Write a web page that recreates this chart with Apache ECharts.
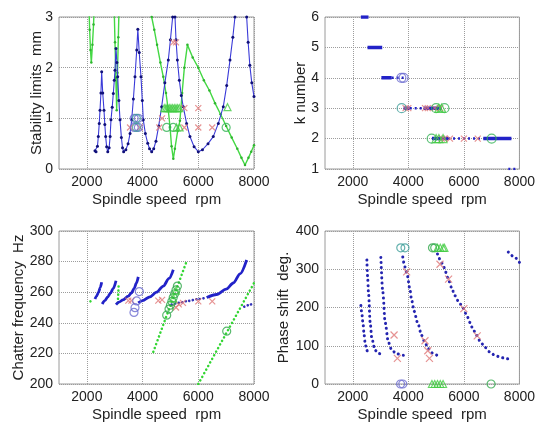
<!DOCTYPE html>
<html><head><meta charset="utf-8">
<script src="https://cdn.jsdelivr.net/npm/echarts@6/dist/echarts.min.js"></script>
<style>html,body{margin:0;padding:0;background:#fff}#c{width:538px;height:424px}</style>
</head><body><div id="c"></div>
<script>
const xTicks = [2000, 4000, 6000, 8000];

// ---- Panel 1: stability limits (mm)
const stabBlue = [
 [2292,0.36],[2330,0.34],[2380,0.45],[2412,0.64],[2445,0.9],[2472,1.16],[2505,1.5],[2532,1.92],[2570,1.5],[2615,1.16],[2645,0.88],[2675,0.64],[2710,0.44],[2750,0.34],
 [2800,0.42],[2835,0.64],[2866,0.97],[2910,1.22],[2950,1.49],[2985,1.75],[3010,1.95],[3046,2.38],[3080,2.1],[3107,1.82],[3150,1.35],[3190,0.97],[3240,0.62],[3280,0.42],[3320,0.34],
 [3400,0.38],[3480,0.5],[3550,0.7],[3609,0.97],[3670,1.38],[3728,1.82],[3790,2.35],[3830,2.76],[3880,2.3],[3943,1.82],[3990,1.35],[4026,0.97],[4100,0.7],[4184,0.51],[4250,0.4],[4327,0.34],
 [4400,0.4],[4480,0.55],[4580,0.85],[4686,1.23],[4800,1.7],[4924,2.15],[5000,2.55],[5080,3.0],[5095,3.2],
 [5150,3.2],[5164,3.0],[5200,2.55],[5250,2.15],[5320,1.75],[5390,1.45],[5460,1.23],[5580,0.9],[5700,0.64],[5850,0.44],[6000,0.34],
 [6150,0.38],[6350,0.5],[6538,0.64],[6720,0.9],[6898,1.23],[7020,1.65],[7138,2.15],[7240,2.6],[7317,3.0],[7335,3.2],
 [7720,3.2],[7737,3.0],[7790,2.5],[7850,2.05],[7920,1.7],[8000,1.43]
];
const stabGreen = [
 [[2070,3.3],[2100,2.75],[2130,2.35],[2160,2.1],[2200,2.45],[2240,2.85],[2270,3.3]],
 [[2975,3.3],[3010,2.5],[3040,1.8],[3071,1.16],[3100,1.9],[3130,2.6],[3160,3.3]],
 [[4300,3.3],[4327,3.0],[4420,2.75],[4520,2.45],[4640,2.1],[4744,1.82],[4840,1.5],[4924,1.16],[4985,0.83],[5040,0.45],[5103,0.2],[5160,0.4],[5260,0.75],[5340,0.95],[5420,1.5],[5500,2.0],[5610,2.45],[5800,2.2],[6000,2.0],[6200,1.75],[6400,1.55],[6600,1.3],[6800,1.08],[7000,0.85],[7200,0.62],[7400,0.4],[7550,0.22],[7677,0.08],[7800,0.22],[7900,0.34],[8000,0.47]]
];
const stabRedX = [[3550,0.82],[3900,0.82],[4600,0.82],[5500,0.82],[6000,0.82],[6500,0.82],[4700,1.0],[5500,1.2],[6000,1.2],[5100,2.5],[5200,2.5]];
const stabBlueO = [[3700,0.82],[3850,0.82],[3700,1.0],[3850,1.0]];
const stabTealO = [[3780,1.0],[3780,0.82]];
const stabGreenO = [[4866,0.82],[5100,0.82],[7000,0.82]];
const stabGreenTri = [[4780,1.2],[4840,1.2],[4900,1.2],[4960,1.2],[5020,1.2],[5080,1.2],[5140,1.2],[5200,1.2],[5260,1.2],[5320,1.2],[5220,0.82],[5330,0.82],[7050,1.22]];

// ---- Panel 2: k number  [start rpm, end rpm, k]
const kDense = [[2292,2565,6],[2530,3060,5],[3030,3400,4],[3830,4050,3],[4550,5200,3],[4850,5430,2],[6700,7712,2]];
const kSparse = [[3400,3830,4],[4050,4550,3],[5430,6700,2],[7600,7950,1]];
const kRedX = [[3900,3],[4000,3],[4600,3],[4700,3],[4950,3],[5150,3],[5200,2],[5300,2],[5500,2],[6000,2],[6500,2]];
const kBlueO = [[3750,4],[3830,4]];
const kTealO = [[3760,3]];
const kGreenO = [[4840,2],[7000,2],[5000,3],[5300,3]];
const kGreenTri = [[5100,3],[5200,3],[5000,2],[5100,2],[5250,2]];

// ---- Panel 3: chatter frequency (Hz)
const freqBlue = [
 [[2292,255.6],[2350,257.5],[2420,260],[2480,263],[2532,266.5]],
 [[2550,252.3],[2650,254.5],[2750,257],[2850,259.5],[2950,262.5],[3046,267.5]],
 [[3046,251.9],[3150,253.5],[3300,255],[3488,257.4],[3600,259.5],[3700,262.5],[3780,266],[3846,270]],
 [[3846,253],[4000,254.5],[4266,257],[4500,260],[4744,264],[4950,269],[5103,274.7]],
 [[6300,256.5],[6660,258.5],[7000,262],[7257,266],[7500,272],[7737,281]]
];
const freqBlueDotted = [
 [[5045,251.9],[5300,253],[5600,254.2],[6000,255.5],[6300,256.5]],
 [[7650,250.5],[7800,251.5],[8000,253]]
];
const freqGreen = [
 [[2130,254],[2175,256]],
 [[3110,253],[3140,264]],
 [[4385,221],[5583,280.3]],
 [[6000,200],[8000,266]]
];
const freqRedX = [[3488,254.5],[3600,254.5],[4564,254.5],[4700,255],[5200,250],[5300,252],[5450,253],[6000,254],[6500,254]];
const freqBlueO = [[3692,246.8],[3728,249.9],[3789,254.3],[3883,260.4]];
const freqGreenO = [[4866,245],[4950,249],[5000,251.5],[5050,254],[5100,256.5],[5150,259],[5200,261.5],[5250,264],[7020,234.5]];
const freqGreenTri = [[5100,256],[5200,261]];

// ---- Panel 4: phase shift (deg.)
const phaseBlue = [
 [[2292,205],[2328,183],[2364,161],[2411,127],[2447,105],[2508,88],[2543,81]],
 [[2508,324],[2531,283],[2565,240],[2626,161],[2687,118],[2806,88],[2920,80],[3046,77]],
 [[3010,331],[3082,240],[3164,161],[3283,109],[3405,88],[3584,79],[3822,75]],
 [[3800,332],[3880,306],[3966,283],[4050,250],[4123,218],[4210,190],[4330,161],[4482,127],[4600,108],[4720,92],[4900,79],[5138,70]],
 [[5050,340],[5150,325],[5258,309],[5350,292],[5437,274],[5550,253],[5677,231],[5820,214],[5976,198],[6100,180],[6216,161],[6330,143],[6456,127],[6600,110],[6754,96],[6930,84],[7113,75],[7350,69],[7550,66],[7750,64]],
 [[7600,345],[7800,333],[8000,318]]
];
const phaseRedX = [[3487,128],[3606,67],[3940,293],[4600,113],[4700,87],[4760,67],[5140,313],[5450,274],[6000,197],[6480,126]];
const phaseBlueO = [[3720,0],[3800,0]];
const phaseTealO = [[3728,356],[3880,356]];
const phaseGreenO = [[4870,356],[4950,356],[6980,0]];
const phaseGreenTri = [[5050,356],[5150,356],[5250,356],[5300,356],[4850,0],[4950,0],[5050,0],[5150,0],[5250,0]];

// ---------------------------------------------------------------
const FONT = "'Liberation Sans',Arial,sans-serif";
const TXT = '#222';
const GRIDC = '#9c9c9c';
const grids = [
  {left:59, top:17, width:195, height:152},
  {left:325, top:17, width:195, height:152},
  {left:59, top:231, width:195, height:153},
  {left:325, top:231, width:195, height:153}
].map(g => Object.assign({show:true, borderColor:'#9a9a9a', borderWidth:1, backgroundColor:'rgba(0,0,0,0)', z:0}, g));

function xAx(gi) {
  return {type:'value', gridIndex:gi, min:1000, max:8000, interval:1000, z:1,
    name:'Spindle speed  rpm', nameLocation:'middle', nameGap:23, nameMoveOverlap:false,
    nameTextStyle:{fontSize:15, color:TXT, fontFamily:FONT},
    axisLine:{show:false}, axisTick:{show:false},
    axisLabel:{fontSize:14, color:TXT, fontFamily:FONT, margin:6,
      formatter: v => xTicks.includes(v) ? String(v) : ''},
    splitLine:{show:true, lineStyle:{color:['rgba(255,255,255,0)', GRIDC], type:'dotted', width:1}}};
}
function yAx(gi, name, min, max, interval, gap) {
  return {type:'value', gridIndex:gi, min, max, interval, name, nameLocation:'middle', nameGap:gap, nameMoveOverlap:false, z:1,
    nameTextStyle:{fontSize:15, color:TXT, fontFamily:FONT},
    axisLine:{show:false}, axisTick:{show:false},
    axisLabel:{fontSize:14, color:TXT, fontFamily:FONT, margin:6},
    splitLine:{show:true, lineStyle:{color:GRIDC, type:'dotted', width:1}}};
}

const series = [];
function line(gi, data, o) {
  series.push(Object.assign({type:'line', xAxisIndex:gi, yAxisIndex:gi, data, animation:false, silent:true,
    showSymbol:false, clip:true}, o));
}
function dots(gi, data, color, width, gap, z) {
  line(gi, data, {lineStyle:{color, width, type:[0.1, gap], cap:'round'}, smooth:0.3, smoothMonotone:'x', z:z||2});
}
function marks(gi, data, kind, color, size) {
  const sym = kind === 'x' ? 'path://M0 0L10 10M10 0L0 10' : kind;
  series.push({type:'scatter', xAxisIndex:gi, yAxisIndex:gi, data, animation:false, silent:true,
    symbol:sym, symbolSize:size,
    itemStyle:{color:'rgba(0,0,0,0)', borderColor:color, borderWidth:1.2}, z:5});
}
const BLUE = '#2222c8', NAVY = '#10107a', GREEN = '#44d844', RED = '#e07878', BLO = '#6a6ad0', TEAL = '#3f9f9a';

// Panel 1
stabGreen.forEach(seg => line(0, seg, {showSymbol:true, symbol:'circle', symbolSize:2.5,
  itemStyle:{color:'#2fb42f'}, lineStyle:{color:GREEN, width:1.4}, z:2}));
line(0, stabBlue, {showSymbol:true, symbol:'circle', symbolSize:3, itemStyle:{color:NAVY},
  lineStyle:{color:'#3a3ad8', width:1.1}, z:3});
marks(0, stabRedX, 'x', RED, 6);
marks(0, stabBlueO, 'circle', BLO, 8);
marks(0, stabTealO, 'circle', TEAL, 8);
marks(0, stabGreenO, 'circle', '#33b355', 8);
marks(0, stabGreenTri, 'triangle', '#44cc44', 7);

// Panel 2
kDense.forEach(s => line(1, [[s[0], s[2]], [s[1], s[2]]], {lineStyle:{color:BLUE, width:3.5}, z:3}));
kSparse.forEach(s => line(1, [[s[0], s[2]], [s[1], s[2]]], {lineStyle:{color:BLUE, width:2.5, type:[2,3]}, z:3}));
marks(1, kRedX, 'x', RED, 6);
marks(1, kBlueO, 'circle', BLO, 9);
marks(1, kTealO, 'circle', TEAL, 9);
marks(1, kGreenO, 'circle', '#33b355', 9);
marks(1, kGreenTri, 'triangle', '#44cc44', 8);

// Panel 3
freqGreen.forEach(seg => line(2, seg, {lineStyle:{color:'#33d633', width:2.5, type:[0.1,4], cap:'round'}, z:2}));
freqBlue.forEach(seg => line(2, seg, {lineStyle:{color:BLUE, width:2.8}, smooth:0.3, smoothMonotone:'x', z:3}));
freqBlueDotted.forEach(seg => dots(2, seg, '#3333b8', 2.6, 3.5, 3));
marks(2, freqRedX, 'x', RED, 6);
marks(2, freqBlueO, 'circle', BLO, 8);
marks(2, freqGreenO, 'circle', '#2fa84a', 8);
marks(2, freqGreenTri, 'triangle', '#44cc44', 7);

// Panel 4
phaseBlue.forEach(seg => dots(3, seg, '#2424b0', 3, 5, 3));
marks(3, phaseRedX, 'x', RED, 7);
marks(3, phaseBlueO, 'circle', BLO, 8);
marks(3, phaseTealO, 'circle', TEAL, 8);
marks(3, phaseGreenO, 'circle', '#2fa84a', 8);
marks(3, phaseGreenTri, 'triangle', '#44cc44', 7);

const chart = echarts.init(document.getElementById('c'), null, {renderer:'canvas'});
chart.setOption({
  backgroundColor:'#fff', animation:false,
  grid: grids,
  xAxis: [xAx(0), xAx(1), xAx(2), xAx(3)],
  yAxis: [
    yAx(0, 'Stability limits  mm', 0, 3, 1, 14.5),
    yAx(1, 'k number', 1, 6, 1, 17),
    yAx(2, 'Chatter frequency  Hz', 200, 300, 20, 32.5),
    yAx(3, 'Phase shift  deg.', 0, 400, 100, 33.5)
  ],
  series
});
</script></body></html>
